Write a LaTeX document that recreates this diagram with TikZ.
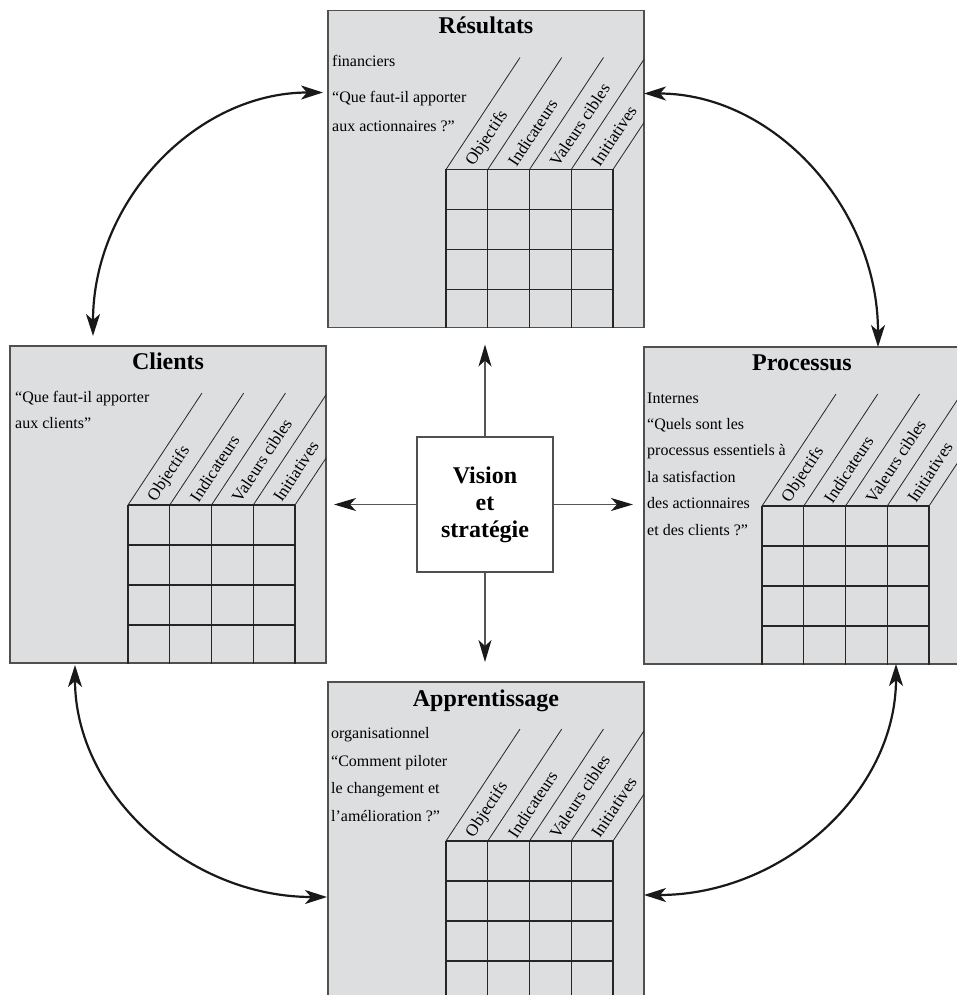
\documentclass[tikz,border=0pt]{standalone}
\usepackage{fontspec}
\setmainfont{Liberation Serif}
\usetikzlibrary{arrows.meta,calc}
\definecolor{boxfill}{HTML}{DDDEE0}
\definecolor{boxline}{HTML}{505050}
\definecolor{arrgray}{HTML}{555555}
\tikzset{
  box/.style={draw=boxline, fill=boxfill, line width=1.3pt, minimum width=316pt, minimum height=317pt, inner sep=0pt, outer sep=0pt},
  ttl/.style={font=\fontsize{24}{28}\selectfont\bfseries, anchor=base, inner sep=0pt},
  bodytxt/.style={font=\fontsize{16}{19}\selectfont, anchor=base west, inner sep=0pt},
  collab/.style={font=\fontsize{17}{20}\selectfont, rotate=56.6, anchor=west, inner sep=0pt},
  gridln/.style={line width=1.3pt, draw=black!85},
  diagln/.style={line width=0.8pt, draw=black!85},
  vis/.style={draw=boxline, fill=white, line width=1.2pt, minimum width=136pt, minimum height=135pt, align=center, font=\fontsize{24}{27}\selectfont\bfseries},
  carrow/.style={draw=arrgray, line width=1.2pt, -{Stealth[length=22pt,width=13pt,inset=6pt,color=black!90]}},
  curv/.style={line width=2.2pt, draw=black!90, {Stealth[length=22pt,width=14pt,inset=6pt]}-{Stealth[length=22pt,width=14pt,inset=6pt]}},
  pics/bsc/.style={code={
    \begin{scope}
      \clip (0,0) rectangle (316,317);
      \foreach \i in {0,...,4}{
        \draw[gridln] (118+41.75*\i,159) -- (118+41.75*\i,325);
        \draw[diagln] (118+41.75*\i,159) -- ++(74,-112);
      }
      \foreach \j in {0,...,3}
        \draw[gridln] (118,159+40*\j) -- (285,159+40*\j);
    \end{scope}
    \foreach \i/\t in {0/Objectifs,1/Indicateurs,2/Valeurs cibles,3/Initiatives}
      \node[collab] (lab\i) at (118+41.75*\i+24,154) {\t};
  }}
}
\begin{document}
\begin{tikzpicture}[x=1pt,y=-1pt]
\useasboundingbox (0,0) rectangle (956,995);

% boxes
\node[box] (R) at (486,169) {};
\node[box] (C) at (168,504.5) {};
\node[box] (P) at (802,505.5) {};
\node[box] (A) at (486,840.5) {};

\pic (Rg) at (R.north west) {bsc};
\pic (Cg) at (C.north west) {bsc};
\pic (Pg) at (P.north west) {bsc};
\pic (Ag) at (A.north west) {bsc};

% Résultats
\node[ttl] (Rt) at (486,34) {Résultats};
\node[bodytxt] (R1) at (332,67) {financiers};
\node[bodytxt] (R2) at (332,103) {“Que faut-il apporter};
\node[bodytxt] (R3) at (332,132) {aux actionnaires ?”};

% Clients
\node[ttl] (Ct) at (168,369) {Clients};
\node[bodytxt] (C1) at (15,402) {“Que faut-il apporter};
\node[bodytxt] (C2) at (15,428) {aux clients”};

% Processus
\node[ttl] (Pt) at (802,370) {Processus};
\node[bodytxt] (P1) at (647,403) {Internes};
\node[bodytxt] (P2) at (647,429) {“Quels sont les};
\node[bodytxt] (P3) at (647,455) {processus essentiels à};
\node[bodytxt] (P4) at (647,482) {la satisfaction};
\node[bodytxt] (P5) at (647,508) {des actionnaires};
\node[bodytxt] (P6) at (647,535) {et des clients ?”};

% Apprentissage
\node[ttl] (At) at (486,706) {Apprentissage};
\node[bodytxt] (A1) at (331,738) {organisationnel};
\node[bodytxt] (A2) at (331,766) {“Comment piloter};
\node[bodytxt] (A3) at (331,793) {le changement et};
\node[bodytxt] (A4) at (331,821) {l’amélioration ?”};

% centre
\node[vis] (V) at (485,504.5) {Vision\\et\\stratégie};

\draw[carrow, shorten >=17pt] (V.north) -- (V.north |- R.south);
\draw[carrow, shorten >=20pt] (V.south) -- (V.south |- A.north);
\draw[carrow, shorten >=8pt] (V.west) -- (V.west -| C.east);
\draw[carrow, shorten >=11pt] (V.east) -- (V.east -| P.west);

% curved arrows
\coordinate (c1a) at ($(C.north west)+(83,-10)$);
\coordinate (c1b) at ($(R.north west)+(-5,82)$);
\coordinate (c2a) at ($(R.north east)+(0,83)$);
\coordinate (c2b) at ($(P.north west)+(234,0)$);
\coordinate (c3a) at ($(C.south west)+(65,2)$);
\coordinate (c3b) at ($(A.north west)+(-1,215)$);
\coordinate (c4a) at ($(P.south west)+(252,0)$);
\coordinate (c4b) at ($(A.north east)+(0,213)$);

\draw[curv] (c1a) .. controls +(0,-135) and +(-127,0) .. (c1b);
\draw[curv] (c2a) .. controls +(129,0) and +(0,-140) .. (c2b);
\draw[curv] (c3a) .. controls +(0,128) and +(-139,0) .. (c3b);
\draw[curv] (c4a) .. controls +(0,128) and +(139,0) .. (c4b);
\end{tikzpicture}
\end{document}
